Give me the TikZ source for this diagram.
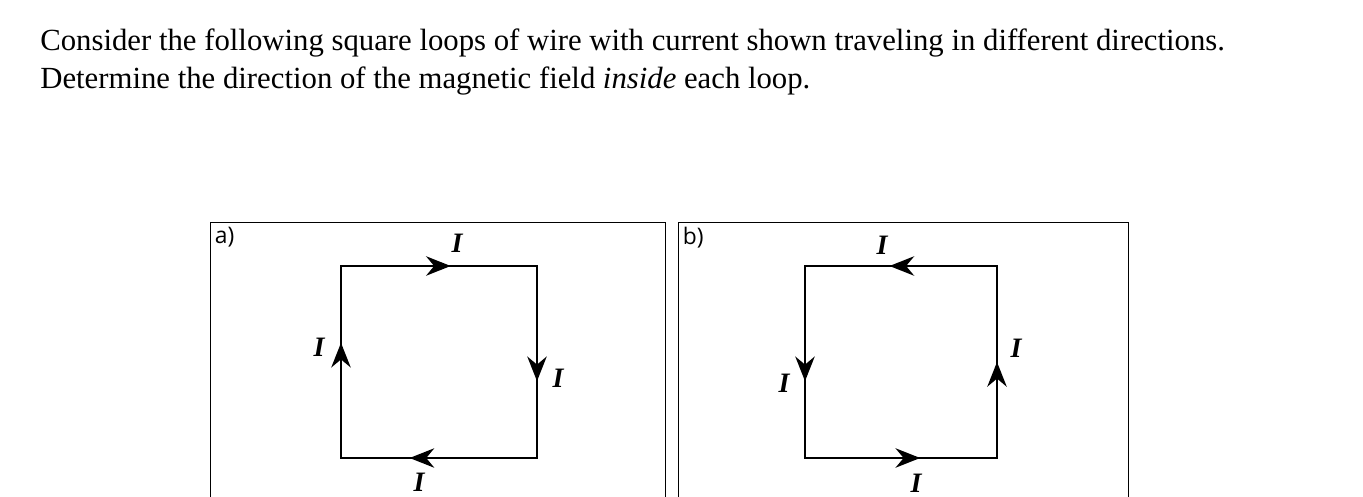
\documentclass[tikz,border=0pt]{standalone}
\usepackage{fontspec}
\setmainfont{Liberation Serif}
\setsansfont{Open Sans}
\usetikzlibrary{arrows.meta, decorations.markings}

\begin{document}
\begin{tikzpicture}[
    x=0.02cm, y=-0.02cm,
    wire/.style={line width=1.6pt},
    mid_arrow/.style={postaction={decorate}, decoration={markings,
        mark=at position #1 with {\arrow{Stealth[length=14pt, width=11pt]}}}},
    panel_style/.style={draw, line width=0.5pt},
    cur_label/.style={font=\fontsize{16}{18}\selectfont\bfseries\itshape},
    tag_style/.style={font=\sffamily\fontsize{13}{15}\selectfont, anchor=north west, inner sep=2pt},
    corner/.style={coordinate}
]
\useasboundingbox (0,0) rectangle (1363,497);

% question text
\node[anchor=north west, align=left, inner sep=0pt, font=\fontsize{17.5}{22}\selectfont] (question) at (40,28)
    {Consider the following square loops of wire with current shown traveling in different directions.\\
     Determine the direction of the magnetic field \textit{inside} each loop.};

% panels
\draw[panel_style] (210,500) -- (210,222) -- (665,222) -- (665,500);
\draw[panel_style] (678,500) -- (678,222) -- (1128,222) -- (1128,500);
\node[tag_style] (tag_a) at (211,223) {a)};
\node[tag_style] (tag_b) at (679,223) {b)};

% loop a (clockwise)
\node[corner] (a_tl) at (341,266) {};
\node[corner] (a_tr) at (537,266) {};
\node[corner] (a_br) at (537,458) {};
\node[corner] (a_bl) at (341,458) {};
\draw[wire, mid_arrow=0.56] (a_tl) -- (a_tr);
\draw[wire, mid_arrow=0.6] (a_tr) -- (a_br);
\draw[wire, mid_arrow=0.65] (a_br) -- (a_bl);
\draw[wire, mid_arrow=0.6] (a_bl) -- (a_tl);
\draw[wire] (a_tl) -- (a_tr) -- (a_br) -- (a_bl) -- cycle;
\node[cur_label] (a_top) at (457,243) {I};
\node[cur_label] (a_right) at (558,378) {I};
\node[cur_label] (a_bottom) at (419,482) {I};
\node[cur_label] (a_left) at (319,347) {I};

% loop b (counter-clockwise)
\node[corner] (b_tl) at (805,266) {};
\node[corner] (b_tr) at (997,266) {};
\node[corner] (b_br) at (997,458) {};
\node[corner] (b_bl) at (805,458) {};
\draw[wire, mid_arrow=0.56] (b_tr) -- (b_tl);
\draw[wire, mid_arrow=0.6] (b_tl) -- (b_bl);
\draw[wire, mid_arrow=0.6] (b_bl) -- (b_br);
\draw[wire, mid_arrow=0.5] (b_br) -- (b_tr);
\draw[wire] (b_tl) -- (b_tr) -- (b_br) -- (b_bl) -- cycle;
\node[cur_label] (b_top) at (882,245) {I};
\node[cur_label] (b_left) at (784,383) {I};
\node[cur_label] (b_right) at (1016,348) {I};
\node[cur_label] (b_bottom) at (916,483) {I};
\end{tikzpicture}
\end{document}
